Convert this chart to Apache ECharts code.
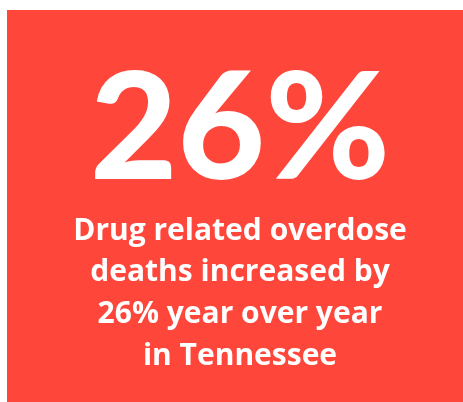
<!DOCTYPE html>
<html>
<head>
<meta charset="utf-8">
<script src="https://cdn.jsdelivr.net/npm/echarts@6/dist/echarts.min.js"></script>
<style>
html,body{margin:0;padding:0;background:#ffffff;}
#chart{width:463px;height:402px;}
</style>
</head>
<body>
<div id="chart"></div>
<script>
var headline = "26%";
var captionLines = ["Drug related overdose", "deaths increased by", "26% year over year", "in Tennessee"];

var chart = echarts.init(document.getElementById('chart'), null, {renderer: 'canvas'});
var elements = [
  {type: 'rect', shape: {x: 7, y: 10, width: 456, height: 392}, style: {fill: '#fe463b'}},
  {type: 'text', x: 240, y: 205, scaleX: 1.02, style: {text: headline, fill: '#ffffff', font: '900 148px Lato', textAlign: 'center', textVerticalAlign: 'bottom'}}
];
captionLines.forEach(function (t, i) {
  elements.push({type: 'text', x: 240, y: 246 + i * 41.7, style: {text: t, fill: '#ffffff', font: 'bold 30px "Open Sans"', textAlign: 'center', textVerticalAlign: 'bottom'}});
});
chart.setOption({
  animation: false,
  graphic: {elements: elements}
});
</script>
</body>
</html>
